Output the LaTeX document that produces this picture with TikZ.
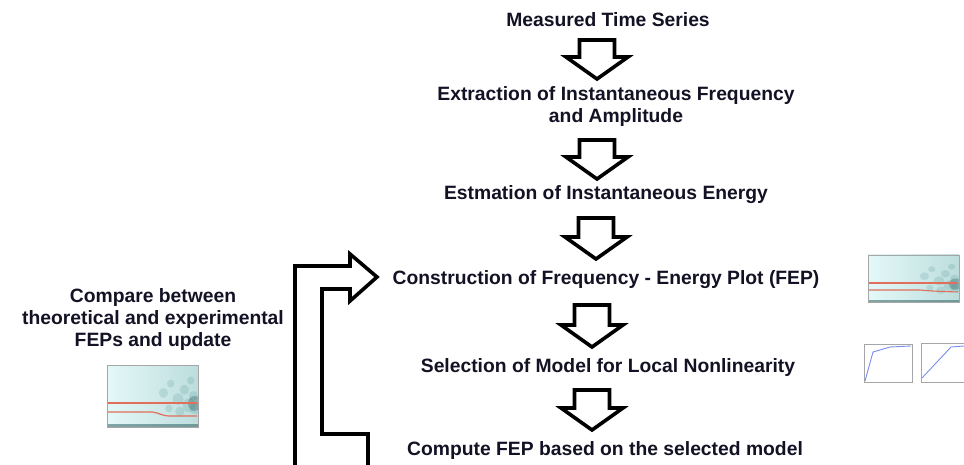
\documentclass[tikz,border=0pt]{standalone}
\usepackage{fontspec}
\setmainfont{Liberation Sans}
\definecolor{txt}{RGB}{18,18,36}
\definecolor{cyanbg}{RGB}{228,248,248}
\definecolor{tealdk}{RGB}{70,140,140}
\definecolor{redln}{RGB}{225,110,90}
\definecolor{blueln}{RGB}{120,140,240}
\tikzset{
  lbl/.style={text=txt, font=\fontsize{19.3}{22}\selectfont\bfseries, align=center, inner sep=0pt},
  blk/.style={draw=black, line width=3.6pt, fill=white, line join=miter},
  pics/blockarrow/.style={code={
    \draw[blk] (-17.5,0) -- (17.5,0) -- (17.5,#1) -- (31,#1) -- (0,#1+22) -- (-31,#1) -- (-17.5,#1) -- cycle;
  }},
  pics/blockarrow/.default=17,
  plotframe/.style={draw=gray!70, line width=0.8pt}
}
\newcommand{\fepimg}[4]{%
  \begin{scope}
    \clip (#1,#2) rectangle (#3,#4);
    \shade[left color=cyanbg, right color=cyanbg!75!tealdk] (#1,#2) rectangle (#3,#4);
    \foreach \u/\v/\s in {0.62/0.45/0.05,0.7/0.3/0.04,0.78/0.55/0.06,0.85/0.4/0.05,0.9/0.65/0.07,0.95/0.5/0.05,0.8/0.75/0.05,0.68/0.7/0.04,0.92/0.25/0.04,0.97/0.7/0.06}
      \fill[tealdk, opacity=0.18] ({#1+\u*(#3-#1)},{#2+\v*(#4-#2)}) ellipse ({\s*(#3-#1)} and {1.6*\s*(#4-#2)});
    \fill[tealdk!70!black, opacity=0.35] ({#3-0.04*(#3-#1)},{#2+0.62*(#4-#2)}) ellipse ({0.07*(#3-#1)} and {0.12*(#4-#2)});
    \fill[tealdk!70!black, opacity=0.55] (#1,{#4-0.05*(#4-#2)}) rectangle (#3,#4);
  \end{scope}
  \draw[plotframe] (#1,#2) rectangle (#3,#4);
}
\begin{document}
\begin{tikzpicture}[x=1pt, y=-1pt]
\useasboundingbox (0,0) rectangle (964,465);

% main column labels
\node[lbl] (n1) at (608,20) {Measured Time Series};
\node[lbl] (n2) at (616,107) {Extraction of Instantaneous Frequency\\and Amplitude};
\node[lbl] (n3) at (606,195) {Estmation of Instantaneous Energy};
\node[lbl] (n4) at (606,280) {Construction of Frequency - Energy Plot (FEP)};
\node[lbl] (n5) at (608,368) {Selection of Model for Local Nonlinearity};
\node[lbl] (n6) at (605,451) {Compute FEP based on the selected model};
\node[lbl] (cmp) at (153,320) {Compare between\\theoretical and experimental\\FEPs and update};

% block arrows between the steps
\coordinate (a1) at (597,40);
\coordinate (a2) at (597,140);
\coordinate (a3) at (596,218);
\coordinate (a4) at (592,305);
\coordinate (a5) at (592,390);
\pic at (a1) {blockarrow=17};
\pic at (a2) {blockarrow=17};
\pic at (a3) {blockarrow=19};
\pic at (a4) {blockarrow=20};
\pic at (a5) {blockarrow=18};

% feedback arrow
\coordinate (fbtip) at (377,277);
\draw[blk] (295,470) -- (295,266) -- (350,266) -- (350,254) -- (fbtip) -- (350,301) -- (350,289) -- (322,289) -- (322,434) -- (368,434) -- (368,470);

% images
\fepimg{868}{255}{959}{302}
\draw[redln, line width=1.1pt] (869,283) -- (958,283);
\draw[redln, line width=1.1pt] (869,290) -- (920,290) .. controls (930,291) .. (958,292);

\fepimg{107}{365}{198}{427}
\draw[redln, line width=1.2pt] (108,403) -- (197,403);
\draw[redln, line width=1.2pt] (108,412) -- (152,412) .. controls (160,413) and (162,416) .. (170,416) -- (197,416);

% small model plots
\draw[plotframe] (864,344) rectangle (912,382);
\draw[blueln, line width=0.9pt] (865,381) -- (873,352) -- (890,347) -- (911,346);
\draw[plotframe] (921,343) rectangle (968,382);
\draw[blueln, line width=0.9pt] (922,378) -- (951,347) -- (964,346);
\end{tikzpicture}
\end{document}
